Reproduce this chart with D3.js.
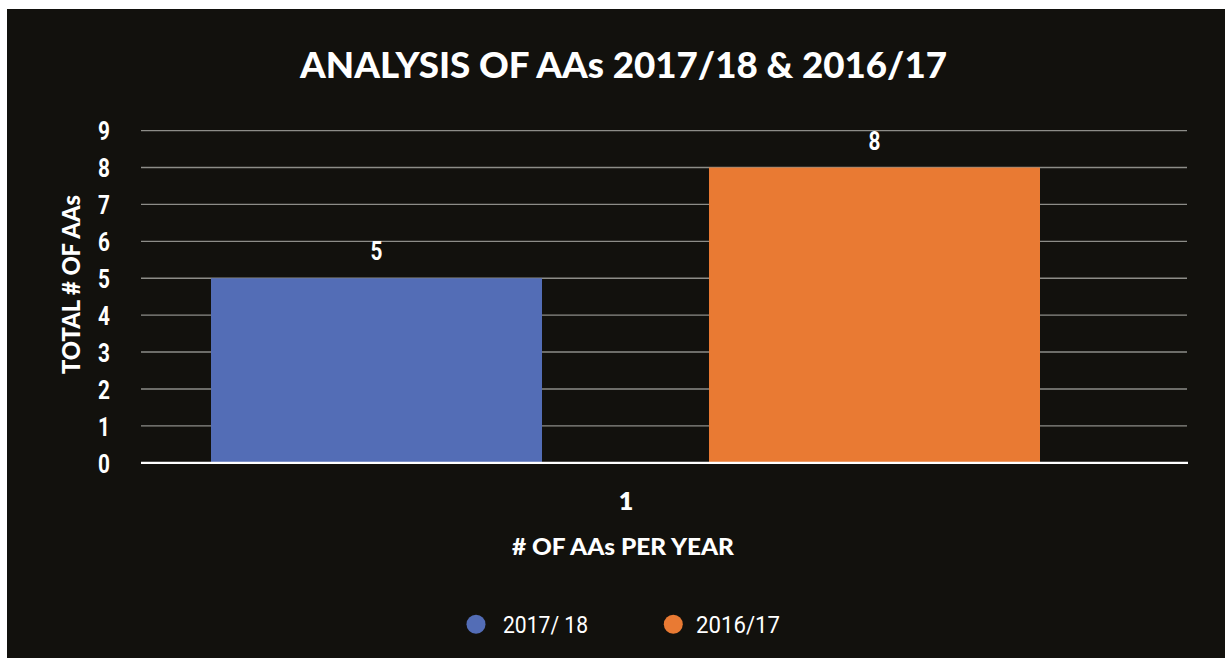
<!DOCTYPE html>
<html>
<head>
<meta charset="utf-8">
<script src="https://cdn.jsdelivr.net/npm/d3@7"></script>
<style>
  html, body { margin: 0; padding: 0; background: #ffffff; }
  svg { display: block; }
</style>
</head>
<body>
<svg id="chart" width="1225" height="658"></svg>
<script>
// Chart data
const categories = ["1"];
const seriesNames = ["2017/ 18", "2016/17"];
const seriesLegend = ["2017/ 18", "2016/17"];
const seriesValues = [5, 8];
const seriesColors = ["#536db6", "#e97a33"];
const yTicks = [0, 1, 2, 3, 4, 5, 6, 7, 8, 9];

const W = 1225, H = 658;
const svg = d3.select("#chart");

// dark panel, leaving a thin white strip at top and left
svg.append("rect").attr("x", 7).attr("y", 9).attr("width", W - 7).attr("height", H - 9)
  .attr("fill", "#12110d");

const plot = { left: 141, right: 1187, top: 130.6, bottom: 462.8 };

const y = d3.scaleLinear().domain([0, 9]).range([plot.bottom, plot.top]);

const x0 = d3.scaleBand().domain(categories).range([211, 1040]).padding(0);
const x1 = d3.scaleBand().domain(seriesNames).range([0, x0.bandwidth()])
  .paddingInner(0.3353).paddingOuter(0);

const heavy = "Lato, 'Open Sans', sans-serif";
const numFont = "Roboto, 'DejaVu Sans', sans-serif";

// gridlines
const grid = svg.append("g");
grid.selectAll("line").data(yTicks.filter(d => d > 0)).join("line")
  .attr("x1", plot.left).attr("x2", plot.right)
  .attr("y1", d => y(d)).attr("y2", d => y(d))
  .attr("stroke", "#8d8d88").attr("stroke-width", 1.4);

// bars
const barG = svg.append("g");
categories.forEach(c => {
  barG.selectAll("rect.s" + c).data(seriesNames.map((s, i) => ({ s, v: seriesValues[i], col: seriesColors[i] })))
    .join("rect")
    .attr("x", d => x0(c) + x1(d.s))
    .attr("width", x1.bandwidth())
    .attr("y", d => y(d.v))
    .attr("height", d => y(0) - y(d.v))
    .attr("fill", d => d.col);

  // value labels
  barG.selectAll("text.v" + c).data(seriesNames.map((s, i) => ({ s, v: seriesValues[i] })))
    .join("text")
    .attr("transform", d => `translate(${x0(c) + x1(d.s) + x1.bandwidth() / 2},${y(d.v) - 18}) scale(0.8,1)`)
    .attr("text-anchor", "middle")
    .attr("fill", "#ffffff")
    .attr("font-family", numFont).attr("font-weight", 700).attr("font-size", 26)
    .text(d => d.v);
});

// baseline
svg.append("line").attr("x1", plot.left).attr("x2", plot.right + 1)
  .attr("y1", y(0)).attr("y2", y(0))
  .attr("stroke", "#ffffff").attr("stroke-width", 2.2);

// y axis tick labels
const yAxis = d3.axisLeft(y).tickValues(yTicks).tickSize(0).tickPadding(0);
const yg = svg.append("g").attr("transform", "translate(110,0)").call(yAxis);
yg.select(".domain").remove();
yg.selectAll(".tick text")
  .attr("fill", "#ffffff")
  .attr("font-family", numFont).attr("font-weight", 700).attr("font-size", 26)
  .attr("dy", "0.36em")
  .attr("text-anchor", "end")
  .attr("transform", "scale(0.8,1)")
  .attr("x", 0);

// x axis category label
const xAxis = d3.axisBottom(d3.scaleBand().domain(categories).range([x0.range()[0], x0.range()[1]])).tickSize(0).tickPadding(0);
const xg = svg.append("g").attr("transform", `translate(0,509.5)`).call(xAxis);
xg.select(".domain").remove();
xg.selectAll(".tick text")
  .attr("y", 0).attr("dy", 0)
  .attr("fill", "#ffffff")
  .attr("font-family", heavy).attr("font-weight", 800).attr("font-size", 25)
  .attr("x", 0.5);

// titles
svg.append("text")
  .attr("x", 300).attr("y", 77.5)
  .attr("textLength", 647).attr("lengthAdjust", "spacingAndGlyphs")
  .attr("fill", "#ffffff")
  .attr("font-family", heavy).attr("font-weight", 900).attr("font-size", 35.5)
  .text("ANALYSIS OF AAs 2017/18 & 2016/17");

svg.append("text")
  .attr("x", 512).attr("y", 554.5)
  .attr("textLength", 222).attr("lengthAdjust", "spacingAndGlyphs")
  .attr("fill", "#ffffff")
  .attr("font-family", heavy).attr("font-weight", 900).attr("font-size", 22.5)
  .text("# OF AAs PER YEAR");

svg.append("text")
  .attr("transform", "translate(79.5,374) rotate(-90)")
  .attr("x", 0).attr("y", 0)
  .attr("textLength", 179).attr("lengthAdjust", "spacingAndGlyphs")
  .attr("fill", "#ffffff")
  .attr("font-family", heavy).attr("font-weight", 900).attr("font-size", 25)
  .text("TOTAL # OF AAs");

// legend
const legendX = [476, 673.3];
const legendTextX = [503, 696];
const legendW = [85, 84];
const lg = svg.append("g");
seriesLegend.forEach((name, i) => {
  lg.append("circle").attr("cx", legendX[i]).attr("cy", 624.3).attr("r", 9.5).attr("fill", seriesColors[i]);
  lg.append("text")
    .attr("x", legendTextX[i]).attr("y", 632.7)
    .attr("textLength", legendW[i]).attr("lengthAdjust", "spacingAndGlyphs")
    .attr("fill", "#ffffff")
    .attr("font-family", numFont).attr("font-weight", 400).attr("font-size", 23)
    .text(name);
});
</script>
</body>
</html>
